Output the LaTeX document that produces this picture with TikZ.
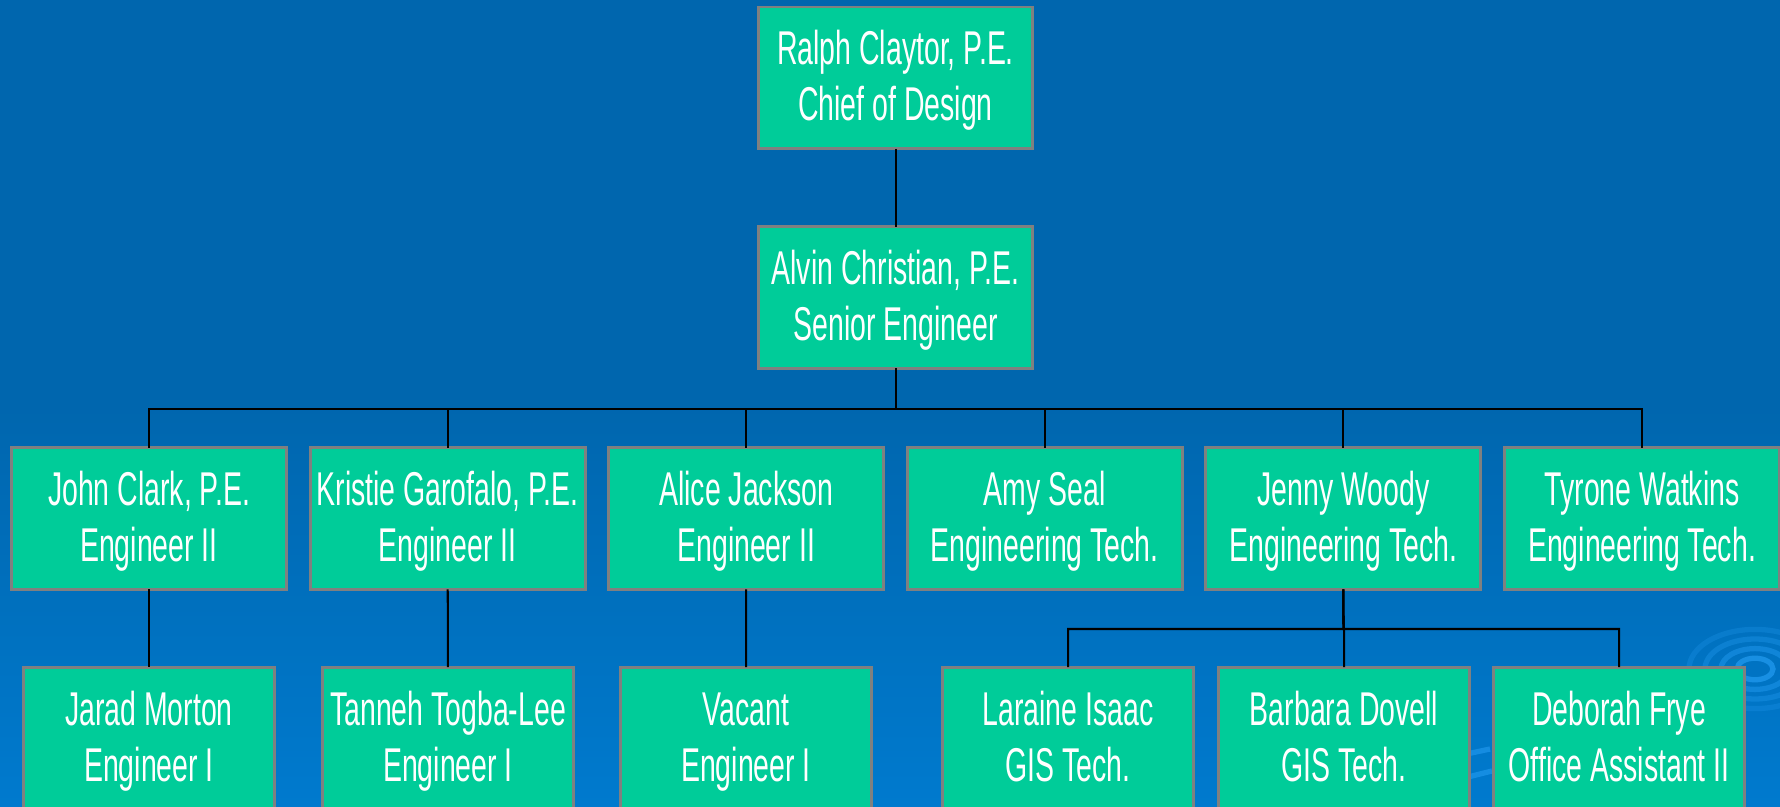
\documentclass[tikz,border=0pt]{standalone}
\usepackage{fontspec}
\setmainfont{Liberation Sans}[FakeStretch=0.6]
\definecolor{bgtop}{RGB}{0,102,174}
\definecolor{bgbot}{RGB}{0,122,206}
\definecolor{boxfill}{RGB}{0,204,153}
\definecolor{boxline}{RGB}{128,128,128}
\definecolor{ripple}{RGB}{30,150,235}
\newcommand\twolines[2]{\rule{0pt}{26.5pt}#1\\\strut#2}
\begin{document}
\begin{tikzpicture}[x=0.02cm,y=0.02cm,
    person/.style = {rectangle,draw=boxline,line width=1.7pt,fill=boxfill,
        minimum width=5.5cm,minimum height=2.84cm,outer sep=0mm,inner sep=0mm,
        align=center,text=white,font=\fontsize{27}{32}\selectfont},
    helper/.style = {person,minimum width=5.02cm,minimum height=2.86cm},
    link/.style = {draw=black,line width=1.15pt}]
\clip (0,0) rectangle (1780,807);
\shade[top color=bgtop,bottom color=bgbot,middle color=bgtop,shading angle=0] (0,0) rectangle (1780,807);
% ripple in the corner
\foreach \r/\o in {66/0.3, 50/0.4, 34/0.55, 18/0.8}
    \draw[ripple,line width=3pt,opacity=\o] (1755,138) ellipse ({\r} and {0.6*\r});
\draw[ripple,line width=3pt,opacity=0.7] (1462,52) -- (1490,58);
\draw[ripple,line width=3pt,opacity=0.7] (1468,30) -- (1492,36);

\node[person] (chief) at (895.5,729) {\twolines{Ralph Claytor, P.E.}{Chief of Design}};
\node[person] (senior) at (895.5,509.5) {\twolines{Alvin Christian, P.E.}{Senior Engineer}};
\coordinate (bus) at (895.5,398);
\coordinate (gisbus) at (1343.5,178);

\foreach \nm/\job [count=\j from 0] in {{John Clark, P.E.}/Engineer II, {Kristie Garofalo, P.E.}/Engineer II,
        Alice Jackson/Engineer II, Amy Seal/Engineering Tech., Jenny Woody/Engineering Tech.,
        Tyrone Watkins/Engineering Tech.}
    \node[person] (eng\j) at (149+298.6*\j,288.5) {\twolines{\nm}{\job}};

\foreach \nm/\job/\px [count=\j from 0] in {Jarad Morton/Engineer I/149, Tanneh Togba-Lee/Engineer I/448,
        Vacant/Engineer I/746, Laraine Isaac/GIS Tech./1068, Barbara Dovell/GIS Tech./1344,
        Deborah Frye/Office Assistant II/1619}
    \node[helper] (sub\j) at (\px,68.5) {\twolines{\nm}{\job}};

\draw[link] (chief) -- (senior);
\foreach \j in {0,...,5}
    \draw[link] (senior.south) -- (bus) -| (eng\j.north);
\foreach \j in {0,1,2}
    \draw[link] (eng\j) -- (sub\j);
\foreach \j in {3,4,5}
    \draw[link] (eng4.south) -- (gisbus) -| (sub\j.north);
\end{tikzpicture}
\end{document}
